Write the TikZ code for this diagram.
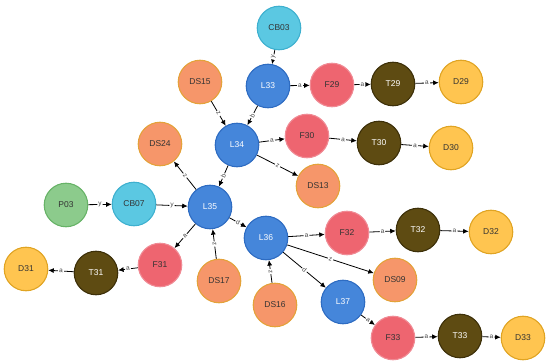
\documentclass[tikz,border=0pt]{standalone}
\usepackage{fontspec}
\setmainfont{Liberation Sans}
\usetikzlibrary{arrows.meta}
\definecolor{lfill}{HTML}{4586DA}
\definecolor{ldraw}{HTML}{2E6CC2}
\definecolor{cfill}{HTML}{5BC8E2}
\definecolor{cdraw}{HTML}{3EB0CF}
\definecolor{ffill}{HTML}{EE6570}
\definecolor{fdraw}{HTML}{F08A94}
\definecolor{tfill}{HTML}{5E4B12}
\definecolor{tdraw}{HTML}{3D3009}
\definecolor{dfill}{HTML}{FFC550}
\definecolor{ddraw}{HTML}{E0A423}
\definecolor{sfill}{HTML}{F6966A}
\definecolor{sdraw}{HTML}{E4A23A}
\definecolor{pfill}{HTML}{8CCB8C}
\definecolor{pdraw}{HTML}{67B367}
\definecolor{labc}{HTML}{444444}
\begin{document}
\begin{tikzpicture}[x=1pt,y=-1pt,
  base/.style={circle, draw, line width=1.1pt, minimum size=43.5pt, inner sep=0pt, font=\fontsize{8.5}{9}\selectfont},
  lnode/.style={base, fill=lfill, draw=ldraw, text=white},
  cnode/.style={base, fill=cfill, draw=cdraw, text=black!80},
  fnode/.style={base, fill=ffill, draw=fdraw, text=black!80},
  tnode/.style={base, fill=tfill, draw=tdraw, text=white},
  dnode/.style={base, fill=dfill, draw=ddraw, text=black!80},
  snode/.style={base, fill=sfill, draw=sdraw, text=black!80},
  pnode/.style={base, fill=pfill, draw=pdraw, text=black!80},
  edge/.style={-{Latex[length=5.5pt,width=5pt]}, line width=0.8pt, black},
  lab/.style={midway, sloped, fill=white, inner sep=1pt, font=\fontsize{6.5}{7}\selectfont, text=labc}
]
\useasboundingbox (0,0) rectangle (550,364);
\node[cnode] (CB03) at (279,28) {CB03};
\node[lnode] (L33) at (268,86) {L33};
\node[fnode] (F29) at (332,85) {F29};
\node[tnode] (T29) at (393,84) {T29};
\node[dnode] (D29) at (461,82) {D29};
\node[snode] (DS15) at (200,82) {DS15};
\node[lnode] (L34) at (237,145) {L34};
\node[fnode] (F30) at (307,136) {F30};
\node[tnode] (T30) at (379,143) {T30};
\node[dnode] (D30) at (451,148) {D30};
\node[snode] (DS24) at (160,144) {DS24};
\node[snode] (DS13) at (318,186) {DS13};
\node[pnode] (P03) at (66,205) {P03};
\node[cnode] (CB07) at (134,204) {CB07};
\node[lnode] (L35) at (210,207) {L35};
\node[lnode] (L36) at (266,238) {L36};
\node[fnode] (F32) at (347,233) {F32};
\node[tnode] (T32) at (418,230) {T32};
\node[dnode] (D32) at (491,232) {D32};
\node[snode] (DS09) at (395,280) {DS09};
\node[fnode] (F31) at (160,265) {F31};
\node[tnode] (T31) at (96,273) {T31};
\node[dnode] (D31) at (26,269) {D31};
\node[snode] (DS17) at (219,281) {DS17};
\node[snode] (DS16) at (275,305) {DS16};
\node[lnode] (L37) at (343,302) {L37};
\node[fnode] (F33) at (393,338) {F33};
\node[tnode] (T33) at (460,336) {T33};
\node[dnode] (D33) at (523,338) {D33};

\draw[edge] (CB03) -- node[lab]{y} (L33);
\draw[edge] (L33) -- node[lab]{a} (F29);
\draw[edge] (F29) -- node[lab]{a} (T29);
\draw[edge] (T29) -- node[lab]{a} (D29);
\draw[edge] (L33) -- node[lab]{b} (L34);
\draw[edge] (DS15) -- node[lab]{z} (L34);
\draw[edge] (L34) -- node[lab]{a} (F30);
\draw[edge] (F30) -- node[lab]{a} (T30);
\draw[edge] (T30) -- node[lab]{a} (D30);
\draw[edge] (L34) -- node[lab]{z} (DS13);
\draw[edge] (L34) -- node[lab]{b} (L35);
\draw[edge] (L35) -- node[lab]{z} (DS24);
\draw[edge] (P03) -- node[lab]{y} (CB07);
\draw[edge] (CB07) -- node[lab]{y} (L35);
\draw[edge] (L35) -- node[lab]{d} (L36);
\draw[edge] (L35) -- node[lab]{a} (F31);
\draw[edge] (F31) -- node[lab]{a} (T31);
\draw[edge] (T31) -- node[lab]{a} (D31);
\draw[edge] (DS17) -- node[lab]{z} (L35);
\draw[edge] (DS16) -- node[lab]{z} (L36);
\draw[edge] (L36) -- node[lab]{a} (F32);
\draw[edge] (F32) -- node[lab]{a} (T32);
\draw[edge] (T32) -- node[lab]{a} (D32);
\draw[edge] (L36) -- node[lab]{z} (DS09);
\draw[edge] (L36) -- node[lab]{d} (L37);
\draw[edge] (L37) -- node[lab]{a} (F33);
\draw[edge] (F33) -- node[lab]{a} (T33);
\draw[edge] (T33) -- node[lab]{a} (D33);
\end{tikzpicture}
\end{document}
